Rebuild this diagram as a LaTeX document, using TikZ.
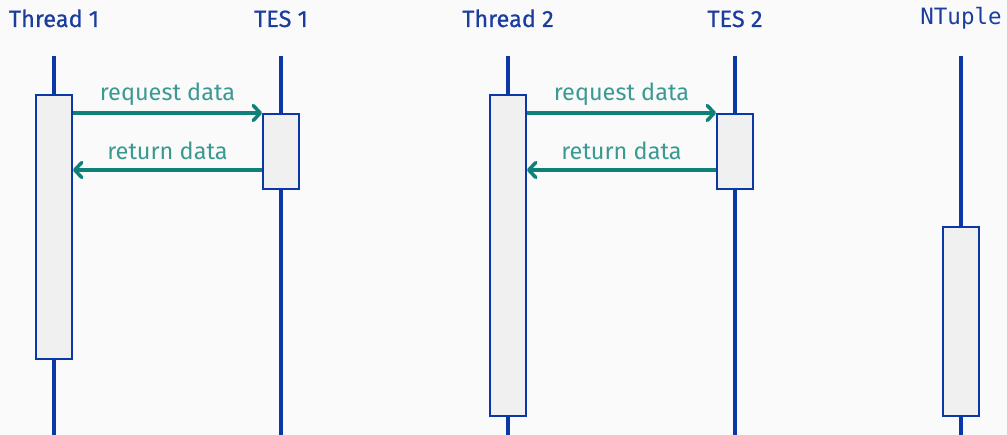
\documentclass[tikz,border=0pt]{standalone}
\usepackage{fontspec}
\setmainfont{Fira Sans}
\newfontfamily\headfont{Fira Sans}[FakeBold=0.6]
\newfontfamily\monofont{DejaVu Sans Mono}
\usetikzlibrary{arrows.meta}
\definecolor{bg}{HTML}{FAFAFA}
\definecolor{lifeblue}{HTML}{0A38A6}
\definecolor{headblue}{HTML}{1B3D9E}
\definecolor{actfill}{HTML}{F0F0F0}
\definecolor{msgteal}{HTML}{0F8078}
\definecolor{msgtext}{HTML}{3A9A92}
\tikzset{
  header/.style={text=headblue, font=\headfont\fontsize{23.5}{28}\selectfont, inner sep=0pt, anchor=base},
  lifeline/.style={draw=lifeblue, line width=4pt},
  actbox/.style={draw=lifeblue, line width=2pt, fill=actfill, rectangle, minimum width=36pt, inner sep=0pt, anchor=north},
  msg/.style={draw=msgteal, line width=3.5pt, -{Straight Barb[length=7pt, width=15pt, line width=3.5pt, round]}},
  msglabel/.style={text=msgtext, font=\fontsize{23.5}{28}\selectfont, inner sep=0pt, anchor=base}
}
\begin{document}
\begin{tikzpicture}[x=1pt, y=-1pt]
  \fill[bg] (0,0) rectangle (1007,435);
  \useasboundingbox (0,0) rectangle (1007,435);

  % participant names
  \node[header] (h1) at (54,27) {Thread 1};
  \node[header] (h2) at (281,27) {TES 1};
  \node[header] (h3) at (508,27) {Thread 2};
  \node[header] (h4) at (735,27) {TES 2};
  \node[header, font=\monofont\fontsize{22.5}{27}\selectfont] (h5) at (961,25) {NTuple};

  % lifelines
  \foreach \x/\n in {54/1, 281/2, 508/3, 735/4, 961/5} {
    \coordinate (top\n) at (\x,56);
    \coordinate (bot\n) at (\x,435);
    \draw[lifeline] (top\n) -- (bot\n);
  }

  % activation boxes
  \node[actbox, minimum height=264pt] (t1) at (54,94) {};
  \node[actbox, minimum height=75pt]  (s1) at (281,113) {};
  \node[actbox, minimum height=321pt] (t2) at (508,94) {};
  \node[actbox, minimum height=75pt]  (s2) at (735,113) {};
  \node[actbox, minimum height=189pt] (nt) at (961,226) {};

  % return points on the TES boxes
  \coordinate (r1) at (s1.west |- 0,170);
  \coordinate (r2) at (s2.west |- 0,170);

  % messages Thread 1 <-> TES 1
  \draw[msg] (t1.east |- s1.north west) -- node[msglabel, yshift=12pt] (q1) {request data} (s1.north west);
  \draw[msg] (r1) -- node[msglabel, yshift=10pt] (a1) {return data} (t1.east |- r1);

  % messages Thread 2 <-> TES 2
  \draw[msg] (t2.east |- s2.north west) -- node[msglabel, yshift=12pt] (q2) {request data} (s2.north west);
  \draw[msg] (r2) -- node[msglabel, yshift=10pt] (a2) {return data} (t2.east |- r2);
\end{tikzpicture}
\end{document}
